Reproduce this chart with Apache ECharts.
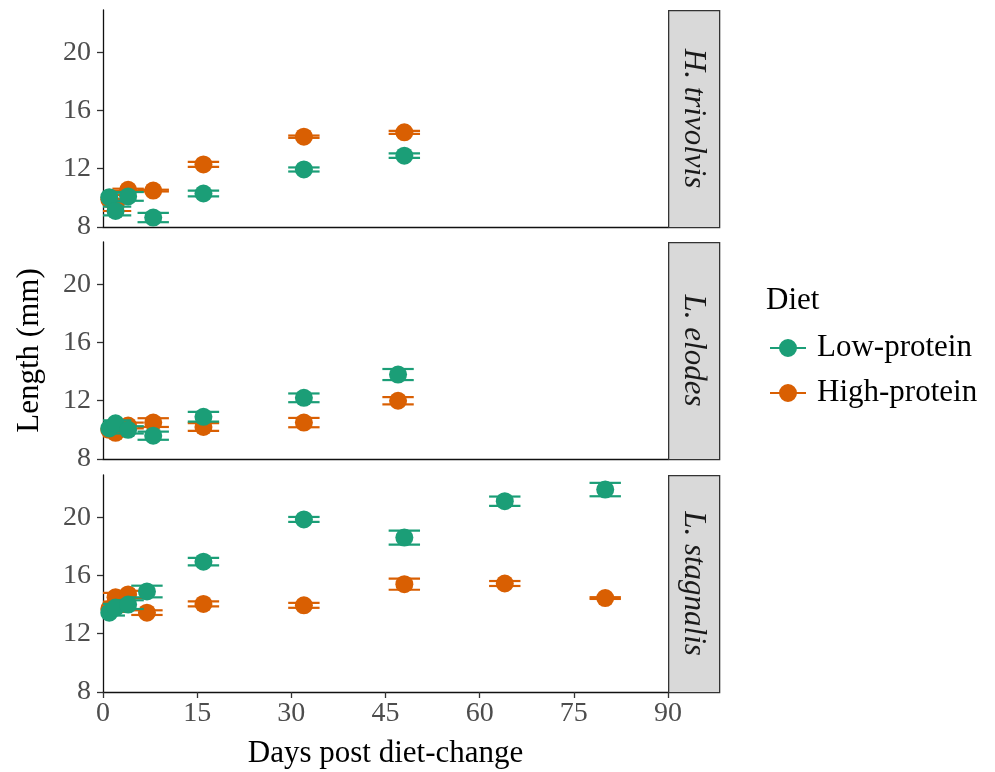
<!DOCTYPE html>
<html>
<head>
<meta charset="utf-8">
<script src="https://cdn.jsdelivr.net/npm/echarts@6/dist/echarts.min.js"></script>
<style>html,body{margin:0;padding:0;background:#fff;}#c{width:995px;height:772px;}</style>
</head>
<body>
<div id="c"></div>
<script>
// ---------- data ----------
const species = ['H. trivolvis', 'L. elodes', 'L. stagnalis'];
const diets = ['Low-protein', 'High-protein'];
const xTicks = [0, 15, 30, 45, 60, 75, 90];
const yTicks = [8, 12, 16, 20];

// H. trivolvis
const hLowDay  = [1, 2, 4, 8, 16, 32, 48];
const hLowLen  = [10.05, 9.1, 10.1, 8.65, 10.3, 11.95, 12.9];
const hLowSe   = [0.3, 0.3, 0.3, 0.32, 0.2, 0.14, 0.16];
const hHighDay = [1, 2, 4, 8, 16, 32, 48];
const hHighLen = [9.9, 9.45, 10.55, 10.5, 12.3, 14.2, 14.5];
const hHighSe  = [0.3, 0.35, 0.08, 0.06, 0.17, 0.08, 0.1];

// L. elodes
const eLowDay  = [1, 2, 4, 8, 16, 32, 47];
const eLowLen  = [10.1, 10.45, 10.0, 9.6, 10.9, 12.2, 13.8];
const eLowSe   = [0.2, 0.2, 0.25, 0.28, 0.34, 0.3, 0.38];
const eHighDay = [1, 2, 4, 8, 16, 32, 47];
const eHighLen = [10.0, 9.8, 10.3, 10.5, 10.2, 10.5, 12.0];
const eHighSe  = [0.2, 0.25, 0.2, 0.3, 0.27, 0.32, 0.25];

// L. stagnalis
const sLowDay  = [1, 2, 4, 7, 16, 32, 48, 64, 80];
const sLowLen  = [13.45, 13.8, 14.0, 14.9, 16.95, 19.85, 18.6, 21.1, 21.9];
const sLowSe   = [0.2, 0.25, 0.3, 0.4, 0.26, 0.17, 0.48, 0.32, 0.46];
const sHighDay = [1, 2, 4, 7, 16, 32, 48, 64, 80];
const sHighLen = [13.7, 14.5, 14.7, 13.45, 14.05, 13.95, 15.4, 15.45, 14.45];
const sHighSe  = [0.2, 0.3, 0.25, 0.16, 0.17, 0.17, 0.38, 0.17, 0.06];

// ---------- style ----------
const colors = ['#1B9E77', '#D95F02'];
const FONT = '"Liberation Serif", "Times New Roman", serif';
const gridLeft = 103, gridWidth = 565, gridH = 217;
const gridTops = [10, 242, 475];
const stripW = 51;
const yMin = 8, yMax = 22.9;
const capHalf = 2.5;

const panels = [
  [[hLowDay, hLowLen, hLowSe], [hHighDay, hHighLen, hHighSe]],
  [[eLowDay, eLowLen, eLowSe], [eHighDay, eHighLen, eHighSe]],
  [[sLowDay, sLowLen, sLowSe], [sHighDay, sHighLen, sHighSe]]
];

function errRender(params, api) {
  const x = api.value(0), lo = api.value(1), hi = api.value(2);
  const pLo = api.coord([x, lo]);
  const pHi = api.coord([x, hi]);
  const pA = api.coord([x - capHalf, lo]);
  const pB = api.coord([x + capHalf, lo]);
  const hw = (pB[0] - pA[0]) / 2;
  const st = { stroke: api.visual('color'), lineWidth: 2.2 };
  return {
    type: 'group',
    children: [
      { type: 'line', shape: { x1: pLo[0], y1: pLo[1], x2: pHi[0], y2: pHi[1] }, style: st },
      { type: 'line', shape: { x1: pLo[0] - hw, y1: pLo[1], x2: pLo[0] + hw, y2: pLo[1] }, style: st },
      { type: 'line', shape: { x1: pHi[0] - hw, y1: pHi[1], x2: pHi[0] + hw, y2: pHi[1] }, style: st }
    ]
  };
}

const grids = [], xAxes = [], yAxes = [], series = [], graphics = [];
const axisLineStyle = { color: '#111', width: 1.3 };
const tickLineStyle = { color: '#333', width: 1.3 };
const drawOrder = [1, 0]; // high-protein first, low-protein on top

panels.forEach((panel, i) => {
  grids.push({ left: gridLeft, top: gridTops[i], width: gridWidth, height: gridH, containLabel: false, outerBoundsMode: 'none' });
  const bottom = i === panels.length - 1;
  xAxes.push({
    gridIndex: i, type: 'value', min: xTicks[0], max: xTicks[xTicks.length - 1], interval: 15,
    axisLine: { show: true, onZero: false, lineStyle: axisLineStyle },
    axisTick: { show: bottom, length: 6, lineStyle: tickLineStyle },
    axisLabel: { show: bottom, fontFamily: FONT, fontSize: 28, color: '#4D4D4D', margin: 8 },
    splitLine: { show: false },
    name: bottom ? 'Days post diet-change' : '',
    nameLocation: 'middle', nameGap: 46,
    nameTextStyle: { fontFamily: FONT, fontSize: 31, color: '#000' }
  });
  yAxes.push({
    gridIndex: i, type: 'value', min: yMin, max: yMax,
    axisLine: { show: true, onZero: false, lineStyle: axisLineStyle },
    axisTick: { show: true, length: 6, lineStyle: tickLineStyle, customValues: yTicks },
    axisLabel: { fontFamily: FONT, fontSize: 28, color: '#4D4D4D', margin: 12, customValues: yTicks },
    splitLine: { show: false }
  });
  drawOrder.forEach((k, o) => {
    const [days, lens, ses] = panel[k];
    series.push({
      type: 'custom', name: diets[k] + ' SE', xAxisIndex: i, yAxisIndex: i,
      renderItem: errRender, clip: true, z: 2 + o * 2,
      itemStyle: { color: colors[k] },
      data: days.map((dd, j) => [dd, lens[j] - ses[j], lens[j] + ses[j]])
    });
    series.push({
      type: 'scatter', name: diets[k], xAxisIndex: i, yAxisIndex: i,
      symbol: 'circle', symbolSize: 18, clip: true, z: 3 + o * 2,
      itemStyle: { color: colors[k], opacity: 1 },
      data: days.map((dd, j) => [dd, lens[j]])
    });
  });
  // facet strip
  graphics.push({
    type: 'rect', left: gridLeft + gridWidth, top: gridTops[i],
    shape: { width: stripW, height: gridH },
    style: { fill: '#D9D9D9', stroke: '#333', lineWidth: 1.3 }, z: 10
  });
  graphics.push({
    type: 'text',
    x: gridLeft + gridWidth + stripW / 2, y: gridTops[i] + gridH / 2,
    rotation: -Math.PI / 2,
    style: { text: species[i], fontFamily: FONT, fontStyle: 'italic', fontSize: 31, fill: '#1A1A1A', align: 'center', verticalAlign: 'middle' },
    z: 11
  });
});

graphics.push({
  type: 'text', x: 30, y: gridTops[1] + gridH / 2, rotation: Math.PI / 2,
  style: { text: 'Length (mm)', fontFamily: FONT, fontSize: 31, fill: '#000', align: 'center', verticalAlign: 'middle' }
});
graphics.push({
  type: 'text', x: 766, y: 301,
  style: { text: 'Diet', fontFamily: FONT, fontSize: 31, fill: '#000', align: 'left', verticalAlign: 'middle' }
});

const option = {
  backgroundColor: '#fff',
  animation: false,
  grid: grids,
  xAxis: xAxes,
  yAxis: yAxes,
  legend: {
    data: diets, orient: 'vertical', left: 765, top: 326,
    itemWidth: 36, itemHeight: 18, itemGap: 11,
    icon: 'path://M0,8.5 L36,8.5 L36,10.5 L0,10.5 Z M18,0.5 A9,9 0 1 1 17.99,0.5 Z',
    textStyle: { fontFamily: FONT, fontSize: 31, color: '#000', padding: [0, 0, 0, 6], lineHeight: 34 },
    selectedMode: false
  },
  graphic: graphics,
  series: series
};

const chart = echarts.init(document.getElementById('c'), null, { renderer: 'canvas' });
chart.setOption(option);
</script>
</body>
</html>
